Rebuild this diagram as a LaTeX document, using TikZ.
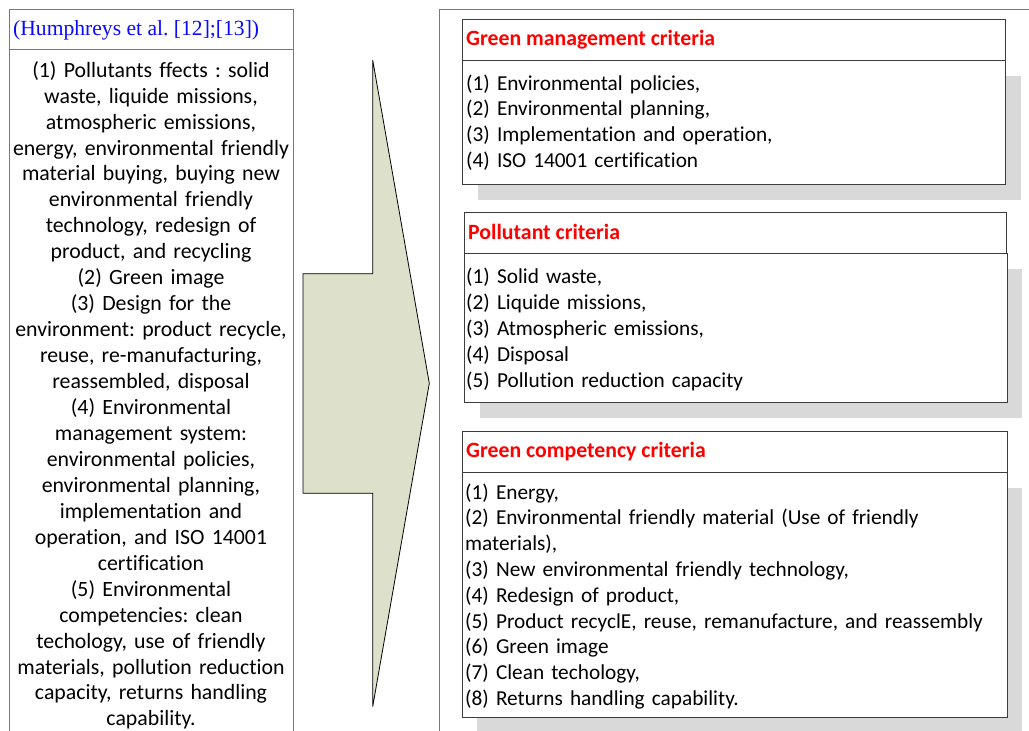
\documentclass[tikz,border=0pt]{standalone}
\usepackage{fontspec}
\setmainfont{Carlito}[Ligatures={NoCommon}]
\newfontfamily\refserif{Liberation Serif}
\frenchspacing

\definecolor{arrowfill}{RGB}{221,224,203}
\definecolor{shadowgray}{RGB}{217,217,217}
\definecolor{framegray}{RGB}{120,120,120}
\definecolor{boxline}{RGB}{60,60,60}
\definecolor{refblue}{RGB}{10,10,255}
\definecolor{headred}{RGB}{255,0,0}

\begin{document}
\begin{tikzpicture}[x=1pt,y=-1pt,
  outerbox/.style={draw=framegray, line width=1.3pt, fill=white, inner sep=0pt, anchor=north west},
  critbox/.style={draw=boxline, line width=1pt, fill=white, inner sep=0pt, anchor=north west},
  shadowbox/.style={fill=shadowgray, draw=none, inner sep=0pt, anchor=north west},
  arrowshape/.style={fill=arrowfill, draw=black, line width=0.8pt, line join=miter},
  headtext/.style={font=\bfseries\fontsize{21.8}{26}\selectfont, text=headred, inner sep=0pt, anchor=base west},
  listtext/.style={font=\fontsize{21.3}{26}\selectfont, inner sep=0pt, anchor=north west, text width=560pt, align=left},
  sourcetext/.style={font=\fontsize{21.8}{25.95}\selectfont, inner sep=0pt, anchor=north, text width=290pt, align=center}
]
\clip (0,0) rectangle (1029,731);

% ---- source column ----
\node[outerbox, minimum width=284pt, minimum height=40pt] (lhead) at (9,9) {};
\node[outerbox, minimum width=284pt, minimum height=700pt] (lbody) at (9,49) {};
\node[font=\refserif\fontsize{21.6}{26}\selectfont, text=refblue, inner sep=0pt, anchor=base west] (lref) at (13,35.5) {(Humphreys et al. [12];[13])};
\node[sourcetext] (ltext) at (151,58.8) {\strut(1) Pollutants ffects : solid\\
waste, liquide missions,\\
atmospheric emissions,\\
energy, environmental friendly\\
material buying, buying new\\
environmental friendly\\
technology, redesign of\\
product, and recycling\\
(2) Green image\\
(3) Design for the\\
environment: product recycle,\\
reuse, re-manufacturing,\\
reassembled, disposal\\
(4) Environmental\\
management system:\\
environmental policies,\\
environmental planning,\\
implementation and\\
operation, and ISO 14001\\
certification\\
(5) Environmental\\
competencies: clean\\
techology, use of friendly\\
materials, pollution reduction\\
capacity, returns handling\\
capability.};

% ---- block arrow ----
\draw[arrowshape] (303,273.7) -- (372.7,273.7) -- (372.7,60) -- (429.3,383.3)
  -- (372.7,706.7) -- (372.7,493.3) -- (303,493.3) -- cycle;

% ---- criteria column ----
\node[outerbox, minimum width=620pt, minimum height=750pt] (rframe) at (439,9) {};

% shadows
\node[shadowbox, minimum width=543pt, minimum height=124pt] (s1) at (478,76) {};
\node[shadowbox, minimum width=542pt, minimum height=149pt] (s2) at (480,269) {};
\node[shadowbox, minimum width=545pt, minimum height=260pt] (s3) at (477,488) {};

% green management
\node[critbox, minimum width=543pt, minimum height=40.7pt] (h1) at (462,19.3) {};
\node[critbox, minimum width=543pt, minimum height=124pt] (b1) at (462,60) {};
\node[headtext] (h1t) at (466,45.7) {Green management criteria};
\node[listtext, font=\fontsize{21.3}{25.7}\selectfont] (b1t) at (466,72.0) {\strut(1) Environmental policies,\\
(2) Environmental planning,\\
(3) Implementation and operation,\\
(4) ISO 14001 certification};

% pollutant
\node[critbox, minimum width=542pt, minimum height=41pt] (h2) at (464,212.3) {};
\node[critbox, minimum width=542.5pt, minimum height=149pt] (b2) at (464,253.3) {};
\node[headtext] (h2t) at (468,239.3) {Pollutant criteria};
\node[listtext] (b2t) at (466,265.1) {\strut(1) Solid waste,\\
(2) Liquide missions,\\
(3) Atmospheric emissions,\\
(4) Disposal\\
(5) Pollution reduction capacity};

% green competency
\node[critbox, minimum width=545pt, minimum height=41pt] (h3) at (462,430.7) {};
\node[critbox, minimum width=545pt, minimum height=245pt] (b3) at (462,471.7) {};
\node[headtext] (h3t) at (466,457.7) {Green competency criteria};
\node[listtext, font=\fontsize{21.3}{25.8}\selectfont] (b3t) at (465,480.9) {\strut(1) Energy,\\
(2) Environmental friendly material (Use of friendly\\
materials),\\
(3) New environmental friendly technology,\\
(4) Redesign of product,\\
(5) Product recyclE, reuse, remanufacture, and reassembly\\
(6) Green image\\
(7) Clean techology,\\
(8) Returns handling capability.};
\end{tikzpicture}
\end{document}
